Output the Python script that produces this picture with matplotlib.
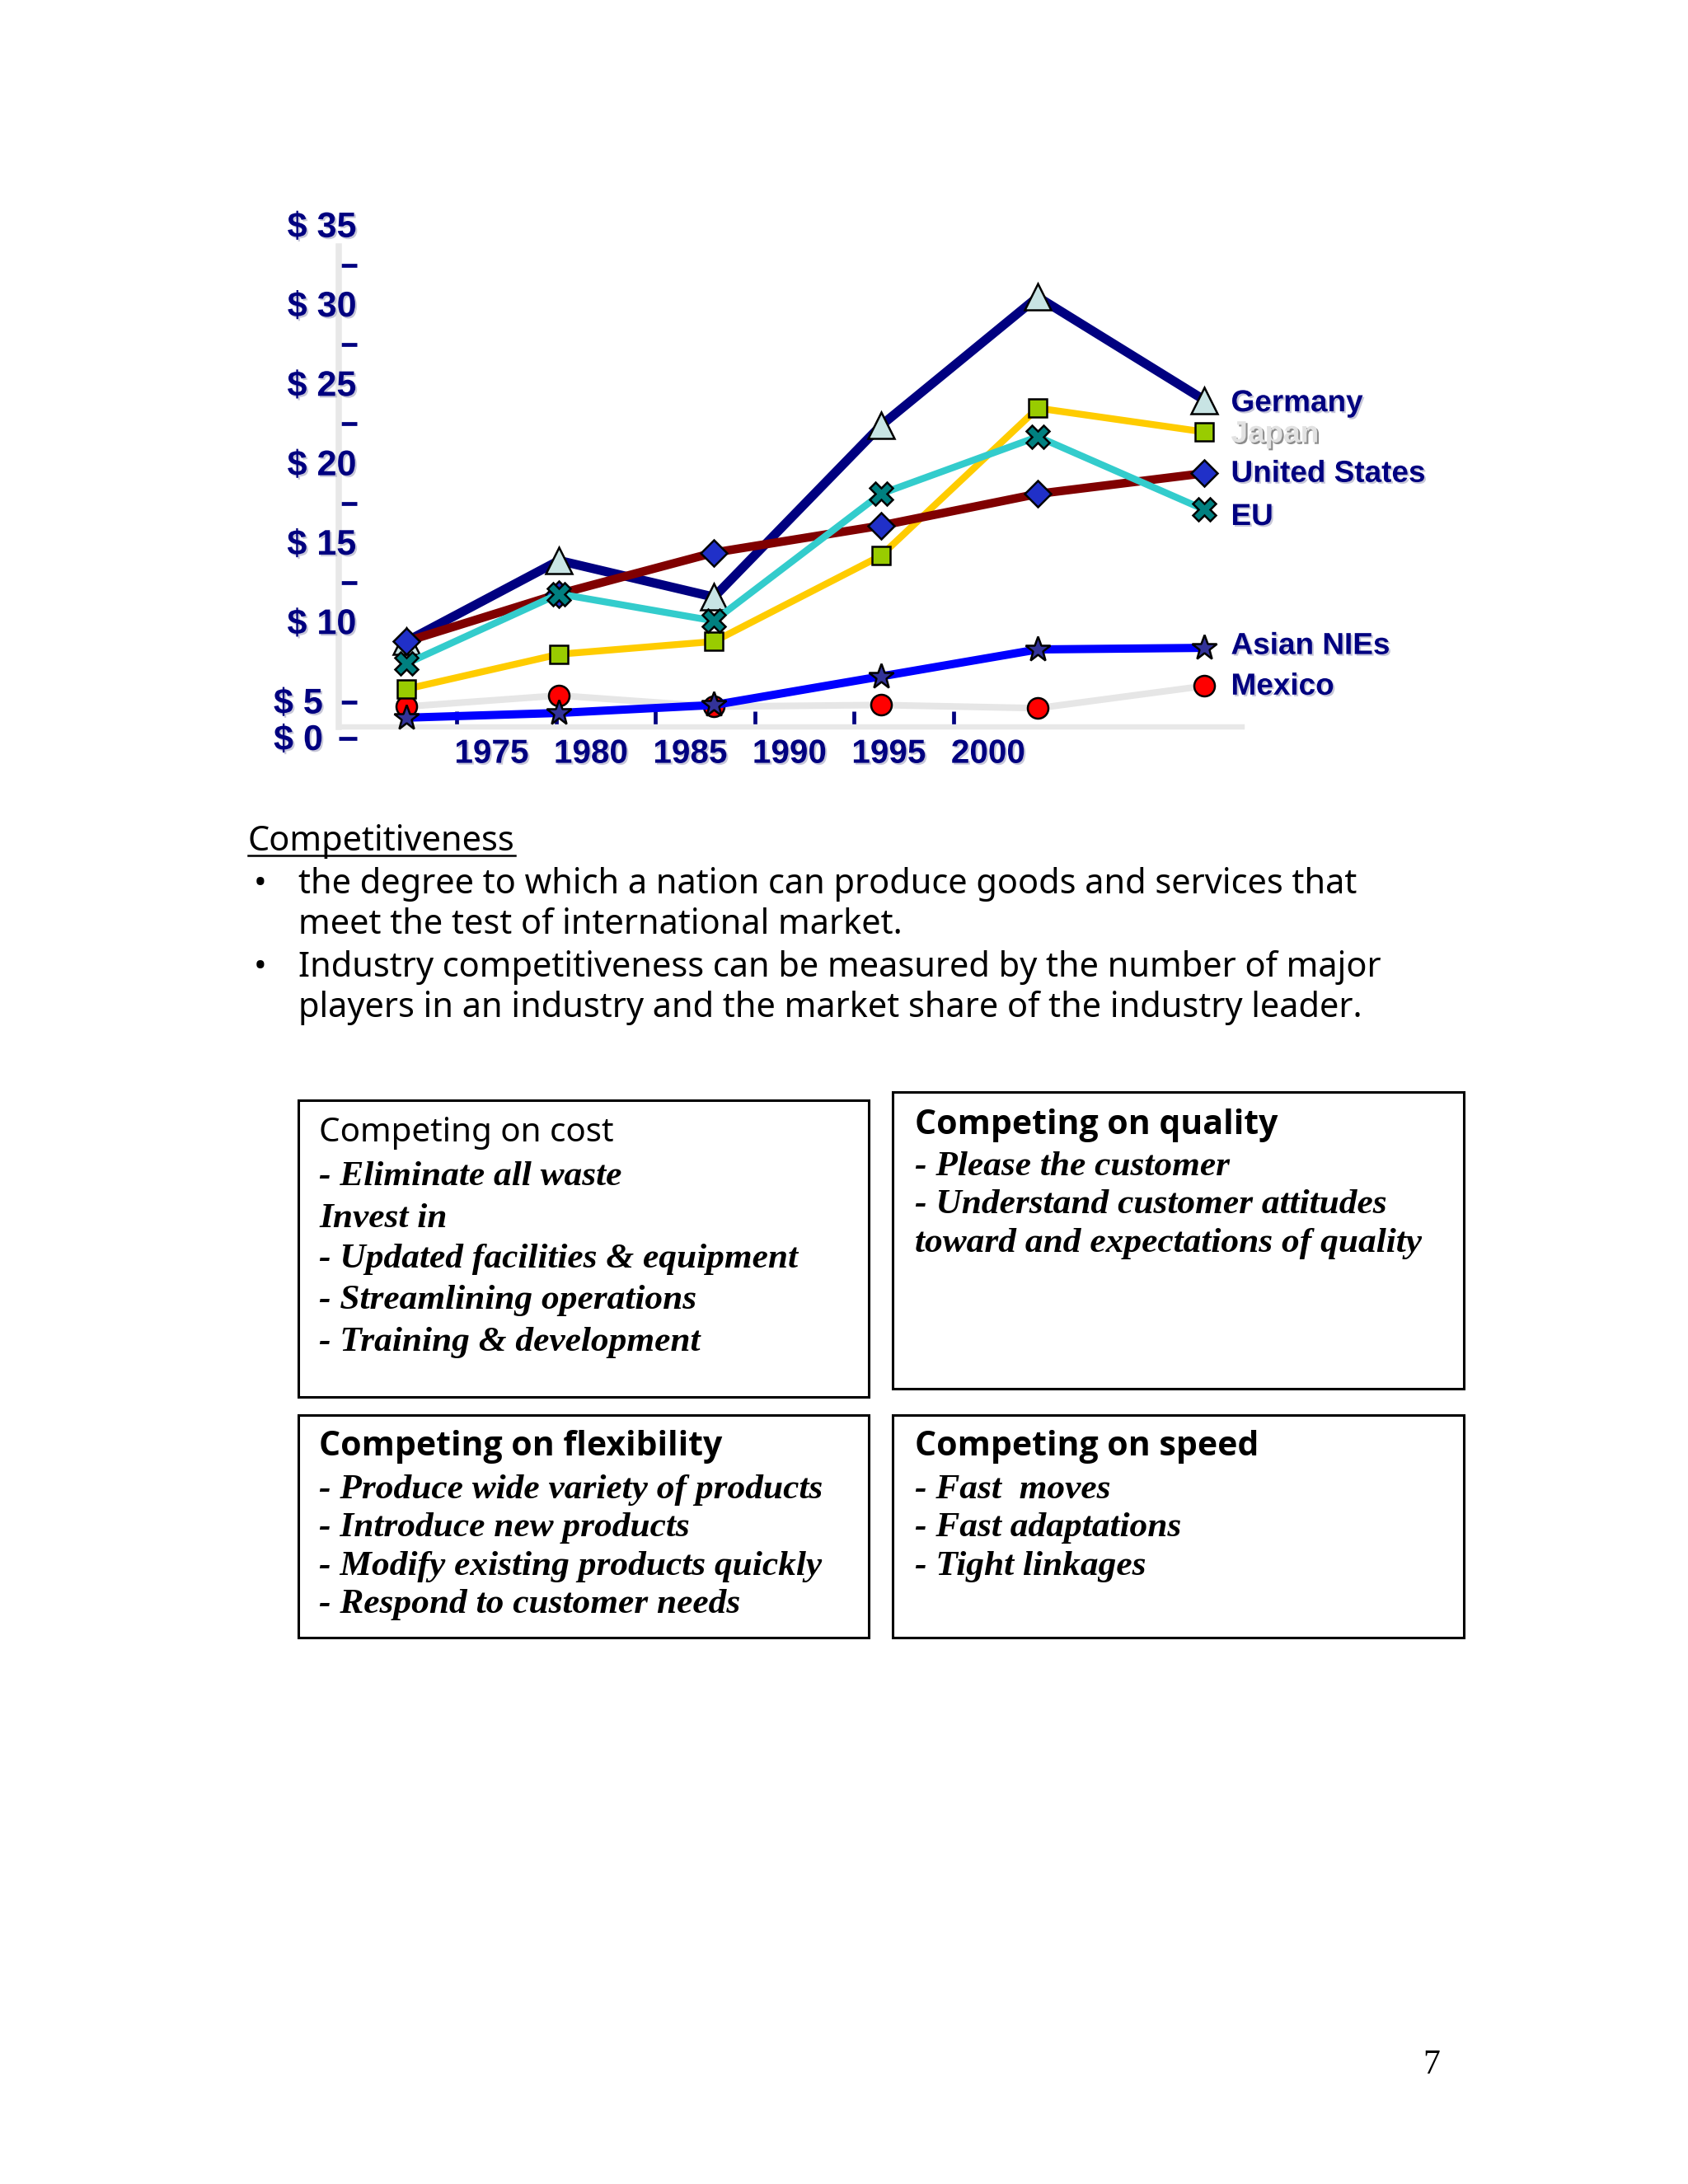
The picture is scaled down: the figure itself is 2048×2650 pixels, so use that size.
import matplotlib
matplotlib.use('Agg')
import matplotlib.pyplot as plt
import matplotlib.patheffects as pe
from matplotlib import font_manager as fm
from matplotlib.lines import Line2D
from matplotlib.patches import Rectangle
from matplotlib.transforms import offset_copy

# ---------------- data ----------------
series_names = ['Mexico', 'Germany', 'Japan', 'United States', 'EU', 'Asian NIEs']
point_years = [1970.7, 1978.4, 1986.2, 1994.6, 2002.5, 2010.9]
germany = [8.8, 13.9, 11.6, 22.4, 30.5, 24.0]
japan = [5.8, 8.0, 8.8, 14.2, 23.5, 22.0]
united_states = [8.8, 11.8, 14.4, 16.1, 18.1, 19.4]
eu = [7.4, 11.8, 10.1, 18.1, 21.7, 17.1]
asian_nies = [4.0, 4.3, 4.8, 6.6, 8.3, 8.4]
mexico = [4.7, 5.4, 4.7, 4.8, 4.6, 6.0]
year_ticks = [1975, 1980, 1985, 1990, 1995, 2000]
year_labels = ['1975', '1980', '1985', '1990', '1995', '2000']
dollar_values = [35, 30, 25, 20, 15, 10, 5]
dollar_labels = ['$ 35', '$ 30', '$ 25', '$ 20', '$ 15', '$ 10', '$ 5']
zero_label = '$ 0'

heading = 'Competitiveness'
bullet_lines = [
    ('\u2022', 'the degree to which a nation can produce goods and services that'),
    (None, 'meet the test of international market.'),
    ('\u2022', 'Industry competitiveness can be measured by the number of major'),
    (None, 'players in an industry and the market share of the industry leader.'),
]
box_cost_title = 'Competing on cost'
box_cost_lines = ['- Eliminate all waste', 'Invest in', '- Updated facilities & equipment',
                  '- Streamlining operations', '- Training & development']
box_quality_title = 'Competing on quality'
box_quality_lines = ['- Please the customer', '- Understand customer attitudes',
                     'toward and expectations of quality']
box_flex_title = 'Competing on flexibility'
box_flex_lines = ['- Produce wide variety of products', '- Introduce new products',
                  '- Modify existing products quickly', '- Respond to customer needs']
box_speed_title = 'Competing on speed'
box_speed_lines = ['- Fast  moves', '- Fast adaptations', '- Tight linkages']
page_number = '7'

# ---------------- layout helpers ----------------
W, H = 2048, 2650
S = W / 1212.0          # full px per reference-preview px
def fx(xs):
    return xs / 1212.0
def fy(ys):
    return 1 - ys * S / H

fig = plt.figure(figsize=(W / 100, H / 100), dpi=100)
fig.patch.set_facecolor('white')
renderer = fig.canvas.get_renderer()

NAVY = '#000080'
CHART_FONT = 'Liberation Sans'
SERIF = 'Liberation Serif'

def has_bold(fam):
    try:
        p = fm.findfont(fm.FontProperties(family=fam, weight='bold'), fallback_to_default=False)
    except Exception:
        return False
    return 'bold' in p.lower()

BODY_FONT = 'Noto Sans'
BODY_BOLD_FONT = next((f for f in ['Noto Sans', 'Open Sans', 'Lato', 'Roboto', 'DejaVu Sans']
                       if has_bold(f)), 'DejaVu Sans')

def fit(text, target_px, **kw):
    t = fig.text(0, 0, text, fontsize=20, **kw)
    w = t.get_window_extent(renderer=renderer).width
    t.remove()
    return 20 * target_px / w

shadow = [pe.SimplePatchShadow(offset=(1.5, -1.5), shadow_rgbFace='#9a9ab8', alpha=0.55), pe.Normal()]
shadow_light = [pe.SimplePatchShadow(offset=(1.5, -1.5), shadow_rgbFace='#808080', alpha=0.9), pe.Normal()]

# ---------------- chart ----------------
ax = fig.add_axes([fx(243), fy(545), fx(892) - fx(243), fy(150) - fy(545)])
ax.set_xlim(1967.29, 2012.80)
ax.set_ylim(1.40, 36.05)
ax.patch.set_alpha(0)
baseline = 3.4
for s in ['top', 'right']:
    ax.spines[s].set_visible(False)
ax.spines['left'].set_color('#e8e8e8')
ax.spines['left'].set_linewidth(5.4)
ax.spines['left'].set_bounds(baseline, 33.7)
ax.spines['bottom'].set_color('#e8e8e8')
ax.spines['bottom'].set_linewidth(4.6)
ax.spines['bottom'].set_position(('data', baseline))

styles = {
    'Mexico': dict(data=mexico, color='#e6e6e6', lw=5.8, marker='o', ms=18, mfc='#ff0000'),
    'Germany': dict(data=germany, color='#000080', lw=8.0, marker='^', ms=23, mfc='#c8e4e4'),
    'Japan': dict(data=japan, color='#ffcc00', lw=6.0, marker='s', ms=16.5, mfc='#99cc00'),
    'United States': dict(data=united_states, color='#800000', lw=7.5, marker='D', ms=16.5, mfc='#2030c8'),
    'EU': dict(data=eu, color='#33cccc', lw=6.0, marker='X', ms=19.5, mfc='#008080'),
    'Asian NIEs': dict(data=asian_nies, color='#0000ff', lw=7.2, marker='*', ms=23, mfc='#333399'),
}
z = 3
for name in series_names:
    st = styles[name]
    ax.plot(point_years, st['data'], color=st['color'], lw=st['lw'], marker=st['marker'],
            ms=st['ms'], mfc=st['mfc'], mec='black', mew=1.8, clip_on=False, zorder=z,
            solid_joinstyle='miter')
    z += 1

# series name labels at right
label_dy = {'Germany': -4, 'Japan': -3, 'United States': -1, 'EU': -9, 'Asian NIEs': 2, 'Mexico': -1}
label_size = fit('United States', 236, family=CHART_FONT, weight='bold')
for name in ['Germany', 'Japan', 'United States', 'EU', 'Asian NIEs', 'Mexico']:
    st = styles[name]
    tr = offset_copy(ax.transData, fig=fig, x=32, y=label_dy[name], units='dots')
    col = '#e2e2e2' if name == 'Japan' else NAVY
    ax.text(point_years[-1], st['data'][-1], name, transform=tr, ha='left', va='center',
            fontsize=label_size, family=CHART_FONT, weight='bold', color=col,
            path_effects=shadow_light if name == 'Japan' else shadow, clip_on=False)

# y axis labels and dashes
ysize = fit('$ 35', 84, family=CHART_FONT, weight='bold')
ytr_in = offset_copy(ax.get_yaxis_transform(), fig=fig, x=13 * S, y=-3, units='dots')
ytr_out = offset_copy(ax.get_yaxis_transform(), fig=fig, x=-11 * S, y=-3, units='dots')
for v, lab in zip(dollar_values, dollar_labels):
    tr = ytr_out if v == 5 else ytr_in
    ax.text(0, v, lab, transform=tr, ha='right', va='center', fontsize=ysize,
            family=CHART_FONT, weight='bold', color=NAVY, path_effects=shadow, clip_on=False)
zero_pos = 2.7  # where the chart prints its "$ 0" label
ax.text(0, zero_pos, zero_label, transform=ytr_out, ha='right', va='center', fontsize=ysize,
        family=CHART_FONT, weight='bold', color=NAVY, path_effects=shadow, clip_on=False)
mid = [(a + b) / 2 for a, b in zip(dollar_values[:-2], dollar_values[1:-1])]
ax.set_yticks([])
ax.set_yticks(mid + [5, zero_pos], minor=True)
ax.tick_params(axis='y', which='minor', direction='in', length=15.5, width=3.4, color=NAVY, left=True)

# x axis
xsize = fit('1975', 90, family=CHART_FONT, weight='bold')
ax.set_xticks(year_ticks)
ax.set_xticklabels(year_labels)
ax.set_xticks([y - 1.75 for y in year_ticks], minor=True)
ax.tick_params(axis='x', which='major', length=0, pad=9.5, labelsize=xsize, labelcolor=NAVY)
ax.tick_params(axis='x', which='minor', direction='in', length=14, width=3.4, color=NAVY)
for lab in ax.get_xticklabels():
    lab.set_fontfamily(CHART_FONT)
    lab.set_fontweight('bold')
    lab.set_path_effects(shadow)

# ---------------- body text ----------------
DY = 2  # small downward nudge (preview px) for body text
body_size = fit(bullet_lines[0][1], 1286, family=BODY_FONT)
t = fig.text(fx(178), fy(602 + DY), heading, ha='left', va='center', fontsize=body_size,
             family=BODY_FONT, color='black')
bb = t.get_window_extent(renderer=renderer)
fig.add_artist(Line2D([bb.x0 / W, bb.x1 / W], [fy(614)] * 2, transform=fig.transFigure,
                      color='black', lw=1.8))
for (bul, txt), ys in zip(bullet_lines, [633, 662, 693, 722]):
    if bul:
        fig.text(fx(182), fy(ys + DY), bul, ha='left', va='center', fontsize=body_size,
                 family=BODY_FONT, color='black')
    fig.text(fx(214), fy(ys + DY), txt, ha='left', va='center', fontsize=body_size,
             family=BODY_FONT, color='black')

# ---------------- boxes ----------------
title_reg = fit(box_cost_title, 358, family=BODY_FONT)
title_bold = fit(box_flex_title, 488, family=BODY_BOLD_FONT, weight='bold')
ital = fit('- Updated facilities & equipment', 581, family=SERIF, weight='bold', style='italic')

def box(x0, y0, x1, y1):
    fig.add_artist(Rectangle((fx(x0), fy(y1)), fx(x1) - fx(x0), fy(y0) - fy(y1),
                             transform=fig.transFigure, fill=False, ec='black', lw=2.2))

def box_text(x, title, tfont, tsize, tweight, ty, lines, ly):
    fig.text(fx(x), fy(ty + DY), title, ha='left', va='center', fontsize=tsize,
             family=tfont, weight=tweight, color='black')
    for ln, yy in zip(lines, ly):
        fig.text(fx(x), fy(yy + DY), ln, ha='left', va='center', fontsize=ital,
                 family=SERIF, weight='bold', style='italic', color='black')

box(214, 790, 624, 1003)
box(641, 784, 1051, 997)
box(214, 1016, 624, 1176)
box(641, 1016, 1051, 1176)
box_text(229, box_cost_title, BODY_FONT, title_reg, 'normal', 812, box_cost_lines, [843, 873, 902, 932, 962])
box_text(657, box_quality_title, BODY_BOLD_FONT, title_bold, 'bold', 806, box_quality_lines, [836, 863, 891])
box_text(229, box_flex_title, BODY_BOLD_FONT, title_bold, 'bold', 1037, box_flex_lines, [1068, 1095, 1123, 1150])
box_text(657, box_speed_title, BODY_BOLD_FONT, title_bold, 'bold', 1037, box_speed_lines, [1068, 1095, 1123])

fig.text(fx(1028), fy(1483), page_number, ha='center', va='center', fontsize=30,
         family=SERIF, color='black')

fig.savefig('out.png', dpi=100, facecolor='white')
